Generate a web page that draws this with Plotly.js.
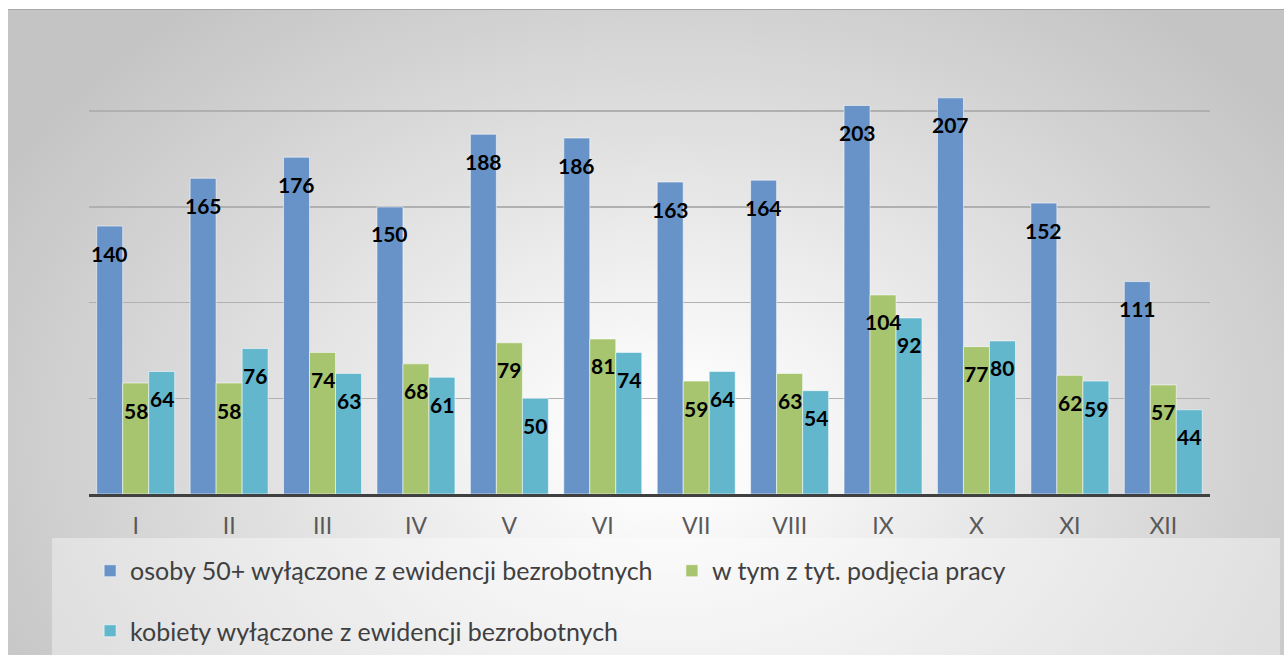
<!DOCTYPE html>
<html>
<head>
<meta charset="utf-8">
<script src="https://cdn.plot.ly/plotly-3.0.1.min.js"></script>
<style>
  html, body { margin:0; padding:0; width:1284px; height:655px; overflow:hidden; background:#ffffff; }
  #bg { position:absolute; left:8px; top:9px; width:1276px; height:646px;
        border-top:1px solid #a8a8a8;
        background: radial-gradient(ellipse 760px 560px at 660px 430px, #ffffff 0%, #fbfbfb 12%, #d0d0d0 80%, #c4c4c4 100%); }
  #chart { position:absolute; left:0; top:0; width:1284px; height:655px; }
</style>
</head>
<body>
<div id="bg"></div>
<div id="chart"></div>
<script>
const months = ['I','II','III','IV','V','VI','VII','VIII','IX','X','XI','XII'];
const seriesNames = [
  'osoby 50+ wyłączone z ewidencji bezrobotnych',
  'w tym z tyt. podjęcia pracy',
  'kobiety wyłączone z ewidencji bezrobotnych'
];
const osoby50 = [140,165,176,150,188,186,163,164,203,207,152,111];
const podjeciePracy = [58,58,74,68,79,81,59,63,104,77,62,57];
const kobiety = [64,76,63,61,50,74,64,54,92,80,59,44];

const seriesValues = [osoby50, podjeciePracy, kobiety];
const colors = ['#6893c8', '#a7c46f', '#63b7cc'];
const legendIds = ['legend', 'legend2', 'legend3'];

const traces = seriesValues.map((vals, s) => ({
  type: 'bar',
  name: seriesNames[s],
  x: months,
  y: vals,
  marker: { color: colors[s], line: { color: 'rgba(255,255,255,0.55)', width: 1 } },
  legend: legendIds[s],
  hoverinfo: 'x+y'
}));

const barPx = 26;
const annotations = [];
seriesValues.forEach((vals, s) => {
  vals.forEach((v, i) => {
    annotations.push({
      x: months[i], y: v, xref: 'x', yref: 'y',
      xshift: (s - 1) * barPx, yshift: -27,
      text: String(v), showarrow: false,
      xanchor: 'center', yanchor: 'middle',
      font: { family: 'Lato, sans-serif', size: 21, color: '#000000', weight: 'bold' }
    });
  });
});

const legendFont = { family: 'Lato, sans-serif', size: 25, color: '#404040' };
function legendAt(x, y) {
  return {
    orientation: 'h', x: x, xanchor: 'left', y: y, yanchor: 'middle',
    bgcolor: 'rgba(0,0,0,0)', font: legendFont,
    itemclick: false, itemdoubleclick: false
  };
}

const layout = {
  width: 1284, height: 655,
  margin: { l: 89, r: 74, t: 50, b: 161, autoexpand: false },
  paper_bgcolor: 'rgba(0,0,0,0)',
  plot_bgcolor: 'rgba(0,0,0,0)',
  barmode: 'group',
  bargap: 0.165,
  bargroupgap: 0,
  font: { family: 'Lato, sans-serif' },
  xaxis: {
    type: 'category',
    showline: true, linecolor: '#404040', linewidth: 3,
    ticks: '', ticklabelstandoff: 9,
    tickfont: { family: 'Lato, sans-serif', size: 23, color: '#595959' },
    showgrid: false, zeroline: false
  },
  yaxis: {
    range: [0, 232],
    dtick: 50, tick0: 0,
    showticklabels: false, ticks: '',
    showgrid: true, gridcolor: '#b0b0b0', gridwidth: 1.5,
    zeroline: false, showline: false
  },
  showlegend: true,
  legend: legendAt(0.001, -0.1734),
  legend2: legendAt(0.520, -0.1734),
  legend3: legendAt(0.001, -0.3086),
  shapes: [{
    type: 'rect', xref: 'paper', yref: 'paper',
    x0: -0.033, x1: 1.0625, y0: -0.099, y1: -0.40,
    fillcolor: 'rgba(255,255,255,0.38)', line: { width: 0 }, layer: 'below'
  }],
  annotations: annotations
};

Plotly.newPlot('chart', traces, layout, { displayModeBar: false, staticPlot: true });
</script>
</body>
</html>
